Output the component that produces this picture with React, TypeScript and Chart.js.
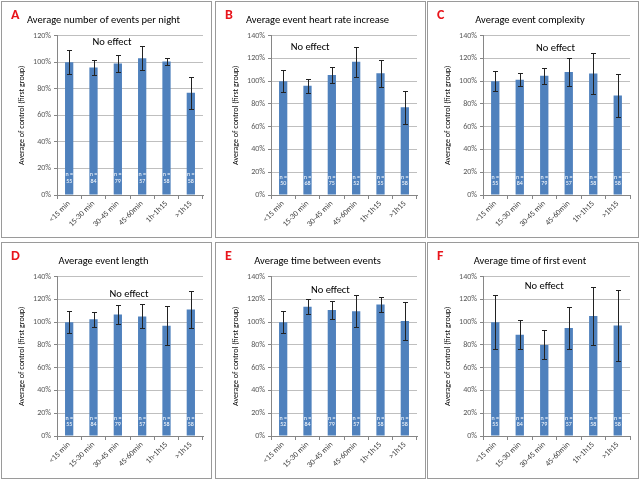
import React, { useEffect, useRef } from 'react';
import { Chart, registerables } from 'chart.js';

Chart.register(...registerables);

const FONT = "'Carlito', 'Liberation Sans', Arial, sans-serif";
Chart.defaults.font.family = FONT;

const categories = ['<15 min', '15-30 min', '30-45 min', '45-60min', '1h-1h15', '>1h15'];
const yTitle = 'Average of control (first group)';

// A - events per night
const eventsPerNight = [100, 96, 99, 103, 100.5, 77];
const eventsPerNightErr = [9, 6, 6.5, 9, 2.5, 12];
const eventsPerNightN = [55, 84, 79, 57, 58, 58];

// B - heart rate increase
const heartRate = [100, 96, 105.4, 117, 107, 77];
const heartRateErr = [9.7, 6.3, 6.8, 13, 12, 14.4];
const heartRateN = [50, 68, 75, 52, 55, 58];

// C - complexity
const complexity = [100, 101.3, 104.8, 108, 106.8, 87.5];
const complexityErr = [8.5, 6, 7, 12, 18, 19];
const complexityN = [55, 84, 79, 57, 58, 58];

// D - event length
const eventLength = [100, 102.5, 106.8, 105, 96.8, 111];
const eventLengthErr = [9.5, 6.5, 8, 10.5, 17, 16];
const eventLengthN = [55, 84, 79, 57, 58, 58];

// E - time between events
const timeBetween = [100, 113.5, 110.6, 109.6, 115.4, 101];
const timeBetweenErr = [9.5, 6.5, 8.2, 14, 6.3, 16.7];
const timeBetweenN = [52, 84, 79, 57, 58, 58];

// F - time of first event
const firstEvent = [100, 89, 80, 94.8, 105.5, 97];
const firstEventErr = [23.8, 13, 12.8, 18.2, 25.2, 31.3];
const firstEventN = [55, 84, 79, 57, 58, 58];

const overlayPlugin = {
  id: 'overlay',
  afterDatasetsDraw(chart: any, _args: any, opts: any) {
    const { ctx, scales } = chart;
    const y = scales.y;
    const x = scales.x;
    const meta = chart.getDatasetMeta(0);
    ctx.save();
    // error bars
    ctx.strokeStyle = '#222';
    ctx.lineWidth = 1;
    opts.values.forEach((v: number, i: number) => {
      const bar = meta.data[i];
      const cx = Math.round(bar.x) + 0.5;
      const yt = Math.round(y.getPixelForValue(v + opts.errors[i])) + 0.5;
      const yb = Math.round(y.getPixelForValue(v - opts.errors[i])) + 0.5;
      ctx.beginPath();
      ctx.moveTo(cx, yt);
      ctx.lineTo(cx, yb);
      ctx.moveTo(cx - 2.5, yt);
      ctx.lineTo(cx + 2.5, yt);
      ctx.moveTo(cx - 2.5, yb);
      ctx.lineTo(cx + 2.5, yb);
      ctx.stroke();
    });
    // n labels
    ctx.fillStyle = '#ffffff';
    ctx.font = `6px ${FONT}`;
    ctx.textAlign = 'center';
    ctx.textBaseline = 'middle';
    opts.ns.forEach((n: number, i: number) => {
      const bar = meta.data[i];
      ctx.fillText('n =', bar.x, y.getPixelForValue(15.7));
      ctx.fillText(String(n), bar.x, y.getPixelForValue(10.4));
    });
    // note
    ctx.fillStyle = '#000';
    ctx.font = `10.5px ${FONT}`;
    ctx.fillText('No effect', x.getPixelForValue(opts.noteX), y.getPixelForValue(opts.noteY));
    ctx.restore();
  },
};

interface PanelProps {
  letter: string;
  title: string;
  values: number[];
  errors: number[];
  ns: number[];
  max: number;
  noteX: number;
  noteY: number;
  left: number;
  top: number;
  width: number;
  height: number;
}

const Panel: React.FC<PanelProps> = ({ letter, title, values, errors, ns, max, noteX, noteY, left, top, width, height }) => {
  const canvasRef = useRef<HTMLCanvasElement>(null);

  useEffect(() => {
    if (!canvasRef.current) return;
    const chart = new Chart(canvasRef.current, {
      type: 'bar',
      data: {
        labels: categories,
        datasets: [
          {
            data: values,
            backgroundColor: '#4F81BD',
            borderWidth: 0,
            barPercentage: 0.34,
            categoryPercentage: 1,
          },
        ],
      },
      options: {
        animation: false,
        responsive: false,
        layout: { padding: { left: 2, right: 8, top: 0, bottom: 2 } },
        plugins: {
          legend: { display: false },
          tooltip: { enabled: false },
          title: {
            display: true,
            text: title,
            color: '#000',
            font: { size: 10.5, weight: 'normal' },
            padding: { top: 12, bottom: 9 },
          },
          overlay: { values, errors, ns, noteX, noteY },
        } as any,
        scales: {
          x: {
            grid: { offset: true, drawOnChartArea: false, drawTicks: true, tickLength: 4, color: '#868686' },
            border: { color: '#868686' },
            ticks: { maxRotation: 45, minRotation: 45, autoSkip: false, font: { size: 8 }, color: '#404040', padding: 0 },
            afterFit: (s: any) => {
              s.height = 40;
            },
          },
          y: {
            min: 0,
            max,
            ticks: { stepSize: 20, callback: (v: any) => v + '%', font: { size: 8 }, color: '#595959', padding: 3 },
            grid: { color: '#BFBFBF', tickLength: 3, tickColor: '#868686' },
            border: { color: '#868686' },
            title: { display: true, text: yTitle, color: '#000', font: { size: 8 }, padding: { top: 13, bottom: 0 } },
            afterFit: (s: any) => {
              s.width = 53;
            },
          },
        },
      },
      plugins: [overlayPlugin],
    });
    return () => chart.destroy();
  }, []);

  return (
    <div
      style={{
        position: 'absolute',
        left,
        top,
        width,
        height,
        boxSizing: 'border-box',
        border: '1px solid #9a9a9a',
        background: '#fff',
      }}
    >
      <canvas ref={canvasRef} width={width - 2} height={height - 2} style={{ display: 'block' }} />
      <div
        style={{
          position: 'absolute',
          left: 9,
          top: 4,
          color: '#e8141b',
          fontFamily: FONT,
          fontWeight: 'bold',
          fontSize: 14,
        }}
      >
        {letter}
      </div>
    </div>
  );
};

export default function App() {
  return (
    <div style={{ position: 'absolute', left: 0, top: 0, width: 640, height: 480, background: '#fff' }}>
      <Panel letter="A" title="Average number of events per night" values={eventsPerNight} errors={eventsPerNightErr} ns={eventsPerNightN} max={120} noteX={1.76} noteY={115} left={1} top={1} width={211} height={237} />
      <Panel letter="B" title="Average event heart rate increase" values={heartRate} errors={heartRateErr} ns={heartRateN} max={140} noteX={1.11} noteY={130} left={215} top={1} width={211} height={237} />
      <Panel letter="C" title="Average event complexity" values={complexity} errors={complexityErr} ns={complexityN} max={140} noteX={2.46} noteY={129} left={427} top={1} width={212} height={237} />
      <Panel letter="D" title="Average event length" values={eventLength} errors={eventLengthErr} ns={eventLengthN} max={140} noteX={2.46} noteY={124} left={1} top={242} width={211} height={237} />
      <Panel letter="E" title="Average time between events" values={timeBetween} errors={timeBetweenErr} ns={timeBetweenN} max={140} noteX={1.94} noteY={128} left={215} top={242} width={211} height={237} />
      <Panel letter="F" title="Average time of first event" values={firstEvent} errors={firstEventErr} ns={firstEventN} max={140} noteX={2.0} noteY={131} left={427} top={242} width={212} height={237} />
    </div>
  );
}
